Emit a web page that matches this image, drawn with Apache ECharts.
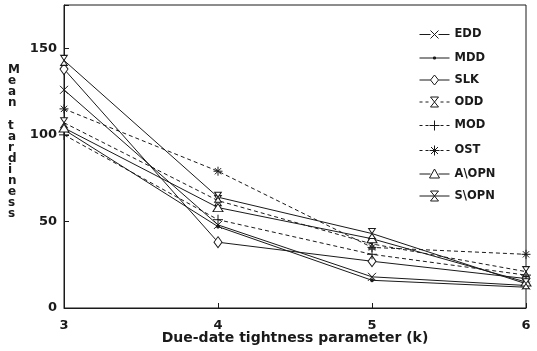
<!DOCTYPE html>
<html>
<head>
<meta charset="utf-8">
<script src="https://cdn.jsdelivr.net/npm/echarts@6/dist/echarts.min.js"></script>
<style>
  html, body { margin: 0; padding: 0; background: #fff; }
  #chart { width: 537px; height: 351px; }
</style>
</head>
<body>
<div id="chart"></div>
<script>
const kValues = [3, 4, 5, 6];
const yTicks = [0, 50, 100, 150];

const EDD  = [126, 48, 18, 13];
const MDD  = [103, 47, 16, 12];
const SLK  = [138, 38, 27, 17];
const ODD  = [107, 62, 37, 21];
const MOD  = [100, 51, 31, 19];
const OST  = [115, 79, 35, 31];
const AOPN = [104, 58, 40, 15];
const SOPN = [143, 64, 43, 14];

const ink = '#1a1a1a';
const font = 'DejaVu Sans';

// marker shapes used on the plot
const sym = {
  cross: 'path://M0,0L10,10M10,0L0,10',
  hourglass: 'path://M0,0L10,0L0,12L10,12Z',
  plus: 'path://M5,0L5,10M0,5L10,5',
  star: 'path://M5,0L5,10M0,5L10,5M1.5,1.5L8.5,8.5M8.5,1.5L1.5,8.5'
};

// legend keys: line piece + marker in one 30x10 path
const BOX = 'M0,0M30,10';
const SOLID = 'M0,5L11,5M19,5L30,5';
const DASH = 'M0,5L3,5M6,5L9,5M21,5L24,5M27,5L30,5';
const key = {
  cross: 'M11,1L19,9M19,1L11,9',
  dot: 'M0,5L30,5M14,4L16,4L16,6L14,6Z',
  diamond: 'M15,0L19,5L15,10L11,5Z',
  hourglass: 'M11,0L19,0L11,10L19,10Z',
  plus: 'M15,0L15,10M10,5L20,5',
  star: 'M15,0L15,10M10,5L20,5M11.5,1.5L18.5,8.5M18.5,1.5L11.5,8.5',
  triangle: 'M15,0L20,9L10,9Z'
};

function makeSeries(name, values, symbol, size, dashed, fill) {
  return {
    name: name,
    type: 'line',
    data: kValues.map((k, i) => [k, values[i]]),
    symbol: symbol,
    symbolSize: size,
    symbolKeepAspect: true,
    showAllSymbol: true,
    lineStyle: { color: ink, width: 1, type: dashed ? [4, 3] : 'solid' },
    itemStyle: { color: fill, borderColor: ink, borderWidth: 1 },
    emphasis: { disabled: true },
    z: 3
  };
}

const series = [
  makeSeries('EDD', EDD, sym.cross, 8, false, 'none'),
  makeSeries('MDD', MDD, 'circle', 3, false, ink),
  makeSeries('SLK', SLK, 'diamond', [8, 11], false, '#fff'),
  makeSeries('ODD', ODD, sym.hourglass, [8, 10], true, '#fff'),
  makeSeries('MOD', MOD, sym.plus, 10, true, 'none'),
  makeSeries('OST', OST, sym.star, 9, true, 'none'),
  makeSeries('A\\OPN', AOPN, 'triangle', [10, 8], false, '#fff'),
  makeSeries('S\\OPN', SOPN, sym.hourglass, [8, 10], false, '#fff')
];

const legendKeys = [
  [SOLID, key.cross, 'none'],
  ['', key.dot, ink],
  [SOLID, key.diamond, '#fff'],
  [DASH, key.hourglass, '#fff'],
  [DASH, key.plus, 'none'],
  [DASH, key.star, 'none'],
  [SOLID, key.triangle, '#fff'],
  ['M0,5L30,5', key.hourglass, '#fff']
];

const legendData = series.map((s, i) => ({
  name: s.name,
  icon: 'path://' + BOX + legendKeys[i][0] + legendKeys[i][1],
  itemStyle: { color: legendKeys[i][2], borderColor: ink, borderWidth: 1 }
}));

const yTitle = 'Mean tardiness'.split('').join('\n');

const chart = echarts.init(document.getElementById('chart'));
chart.setOption({
  animation: false,
  backgroundColor: '#fff',
  textStyle: { fontFamily: font },
  grid: {
    left: 64, right: 11, top: 5, bottom: 43,
    outerBoundsMode: 'none',
    containLabel: false,
    show: true, borderColor: ink, borderWidth: 1
  },
  xAxis: {
    type: 'value',
    min: 3, max: 6, interval: 1,
    name: 'Due-date tightness parameter (k)',
    nameLocation: 'middle',
    nameGap: 23,
    nameMoveOverlap: false,
    nameTextStyle: { color: ink, fontSize: 14, fontWeight: 'bold', fontFamily: font },
    axisLine: { lineStyle: { color: ink, width: 1 } },
    axisTick: { inside: true, length: 5, lineStyle: { color: ink } },
    axisLabel: { color: ink, fontSize: 13, fontWeight: 'bold', fontFamily: font, margin: 11 },
    splitLine: { show: false }
  },
  yAxis: {
    type: 'value',
    min: 0, max: 175, interval: 50,
    axisLine: { show: true, lineStyle: { color: ink, width: 1 } },
    axisTick: { inside: true, length: 5, lineStyle: { color: ink } },
    axisLabel: {
      color: ink, fontSize: 13, fontWeight: 'bold', fontFamily: font, margin: 7,
      formatter: v => yTicks.includes(v) ? String(v) : ''
    },
    splitLine: { show: false }
  },
  legend: {
    orient: 'vertical',
    left: 412,
    top: 22,
    itemWidth: 30,
    itemHeight: 10,
    itemGap: 10,
    itemStyle: { borderWidth: 1 },
    lineStyle: { width: 1 },
    textStyle: { color: ink, fontSize: 11.5, fontWeight: 'bold', fontFamily: font },
    selectedMode: false,
    data: legendData
  },
  graphic: [{
    type: 'text',
    left: 8,
    top: 64,
    style: {
      text: yTitle,
      fill: ink,
      font: 'bold 12px "DejaVu Sans"',
      lineHeight: 11.1,
      align: 'center'
    }
  }],
  series: series
});

window.addEventListener('resize', function () {
  chart.resize();
});
</script>
</body>
</html>
